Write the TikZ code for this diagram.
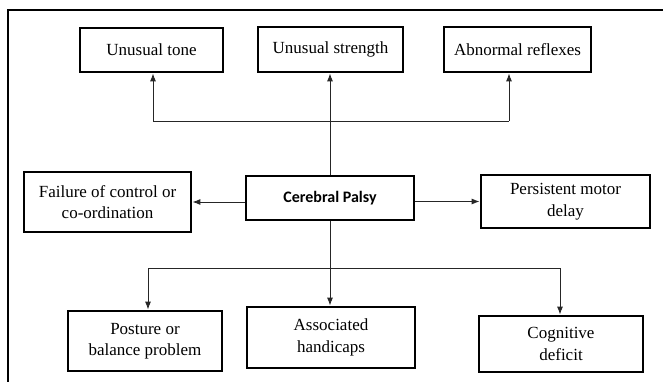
\documentclass[tikz,border=0pt]{standalone}
\usepackage{fontspec}
\setmainfont{Liberation Serif}
\newfontfamily\cpfont{Carlito}
\usetikzlibrary{arrows.meta}
\begin{document}
\begin{tikzpicture}[x=1pt,y=-1pt,
 box/.style={draw, line width=2.8pt, inner sep=2pt, outer sep=1.4pt, align=center,
   font=\fontsize{17}{21.5}\selectfont},
 conn/.style={draw=black!85, line width=0.9pt},
 arr/.style={conn, -{Latex[length=8pt,width=6pt]}}]
\useasboundingbox (0,0) rectangle (663,382);
\draw[line width=2.8pt] (8,382) -- (8,10) -- (663,10);

\node[box, minimum width=143pt, minimum height=44pt] (tone) at (151.5,50) {Unusual tone};
\node[box, minimum width=145pt, minimum height=45pt] (strength) at (330.5,49.5) {Unusual strength};
\node[box, minimum width=147pt, minimum height=45pt] (abnormal) at (517.5,49.5) {Abnormal reflexes};

\node[box, minimum width=167pt, minimum height=60pt] (failure) at (107.5,202) {Failure of control or\\co-ordination};
\node[box, minimum width=168pt, minimum height=44pt, font=\cpfont\bfseries\fontsize{16}{20}\selectfont] (cp) at (330,198) {Cerebral Palsy};
\node[box, minimum width=169pt, minimum height=53pt] (persist) at (565.5,201.5) {Persistent motor\\delay};

\node[box, minimum width=154pt, minimum height=60pt] (posture) at (145,341) {Posture or\\balance problem};
\node[box, minimum width=168pt, minimum height=61pt] (assoc) at (331,337.5) {Associated\\handicaps};
\node[box, minimum width=164pt, minimum height=56pt] (cognitive) at (561,344) {Cognitive\\deficit};

\coordinate (t1) at (153,121);
\coordinate (t3) at (509,121);
\coordinate (b1) at (148,268);
\coordinate (b3) at (560,268);

\draw[conn] (t1) -- (t3);
\draw[arr] (cp.north) -- (cp.north |- strength.south);
\draw[arr] (t1) -- (t1 |- tone.south);
\draw[arr] (t3) -- (t3 |- abnormal.south);

\draw[arr] (cp.west |- failure.east) -- (failure.east);
\draw[arr] (cp.east |- persist.west) -- (persist.west);

\draw[conn] (b1) -- (b3);
\draw[arr] (cp.south) -- (cp.south |- assoc.north);
\draw[arr] (b1) -- (b1 |- posture.north);
\draw[arr] (b3) -- (b3 |- cognitive.north);
\end{tikzpicture}
\end{document}
